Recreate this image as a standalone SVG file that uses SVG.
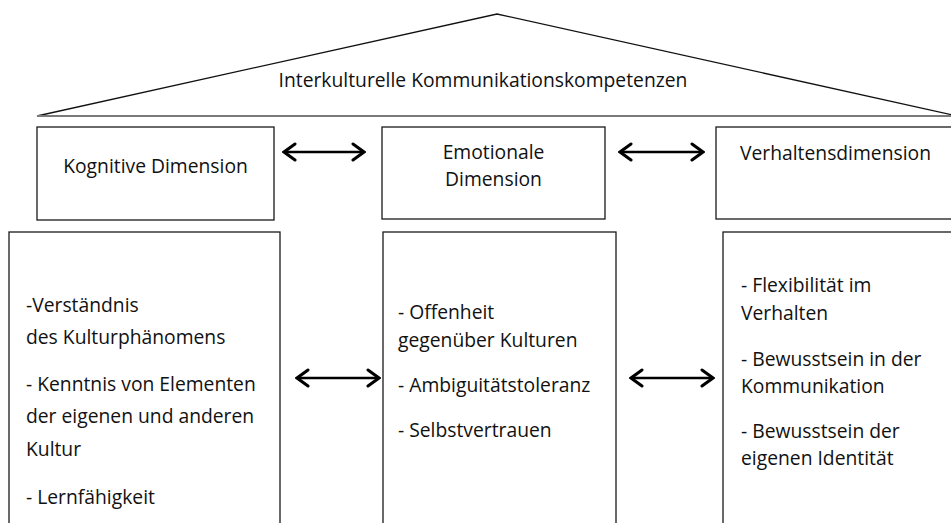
<svg xmlns="http://www.w3.org/2000/svg" width="951" height="523" viewBox="0 0 951 523">
  <style>
    .bg { fill: #ffffff; }
    .box { fill: #ffffff; stroke: #1a1a1a; stroke-width: 1.3; }
    .roof { fill: none; stroke: #111111; stroke-width: 1.3; }
    .base { fill: none; stroke: #7a7a7a; stroke-width: 2; }
    .t { font-family: "Open Sans", "Noto Sans", "DejaVu Sans", sans-serif; font-size: 19.3px; fill: #111111; }
    .c { text-anchor: middle; }
    .conn { fill: none; stroke: #000000; stroke-width: 2.6; }
  </style>
  <defs>
    <marker id="head" viewBox="0 0 18 20" refX="16" refY="10" markerWidth="18" markerHeight="20" markerUnits="userSpaceOnUse" orient="auto-start-reverse">
      <path d="M5,2 L16,10 L5,18" fill="none" stroke="#000000" stroke-width="3" stroke-linecap="round" stroke-linejoin="miter"/>
    </marker>
  </defs>
  <rect class="bg" x="0" y="0" width="951" height="523"/>

  <g id="roof">
    <polyline class="roof" points="37,116 497,14 957,116"/>
    <line class="base" x1="37" y1="116" x2="951" y2="116"/>
    <text class="t c" x="483" y="87">Interkulturelle Kommunikationskompetenzen</text>
  </g>

  <g id="kognitive-dimension">
    <rect class="box" x="37" y="127" width="237" height="93"/>
    <text class="t c" x="155.5" y="173">Kognitive Dimension</text>
  </g>

  <g id="emotionale-dimension">
    <rect class="box" x="382" y="127" width="223" height="92"/>
    <text class="t c" x="493.5" y="159">Emotionale</text>
    <text class="t c" x="493.5" y="186">Dimension</text>
  </g>

  <g id="verhaltensdimension">
    <rect class="box" x="716" y="127" width="250" height="92"/>
    <text class="t" x="740" y="160">Verhaltensdimension</text>
  </g>

  <g id="kognitive-inhalt">
    <rect class="box" x="9" y="232" width="271" height="310"/>
    <text class="t" x="26" y="312">-Verständnis</text>
    <text class="t" x="26" y="344">des Kulturphänomens</text>
    <text class="t" x="26" y="391">- Kenntnis von Elementen</text>
    <text class="t" x="26" y="423">der eigenen und anderen</text>
    <text class="t" x="26" y="456">Kultur</text>
    <text class="t" x="26" y="504">- Lernfähigkeit</text>
  </g>

  <g id="emotionale-inhalt">
    <rect class="box" x="383" y="232" width="233" height="310"/>
    <text class="t" x="398" y="319">- Offenheit</text>
    <text class="t" x="398" y="347">gegenüber Kulturen</text>
    <text class="t" x="398" y="392">- Ambiguitätstoleranz</text>
    <text class="t" x="398" y="437">- Selbstvertrauen</text>
  </g>

  <g id="verhaltens-inhalt">
    <rect class="box" x="723" y="232" width="250" height="310"/>
    <text class="t" x="741" y="292">- Flexibilität im</text>
    <text class="t" x="741" y="320">Verhalten</text>
    <text class="t" x="741" y="366">- Bewusstsein in der</text>
    <text class="t" x="741" y="393">Kommunikation</text>
    <text class="t" x="741" y="438">- Bewusstsein der</text>
    <text class="t" x="741" y="465">eigenen Identität</text>
  </g>

  <g id="connectors">
    <line class="conn" x1="284" y1="152" x2="364" y2="152" marker-start="url(#head)" marker-end="url(#head)"/>
    <line class="conn" x1="620" y1="152" x2="703" y2="152" marker-start="url(#head)" marker-end="url(#head)"/>
    <line class="conn" x1="297" y1="378" x2="379" y2="378" marker-start="url(#head)" marker-end="url(#head)"/>
    <line class="conn" x1="631" y1="378" x2="713" y2="378" marker-start="url(#head)" marker-end="url(#head)"/>
  </g>
</svg>
